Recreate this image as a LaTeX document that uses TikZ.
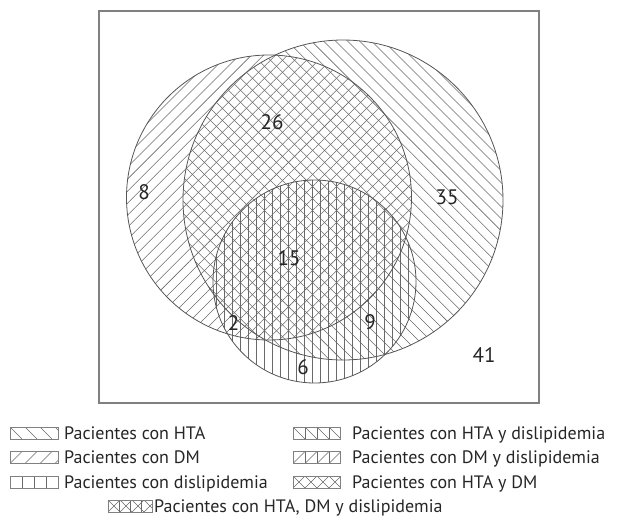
\documentclass[tikz,border=0pt]{standalone}
\usepackage{fontspec}
\setmainfont{PT Sans}
\usetikzlibrary{patterns.meta}

\definecolor{hatch}{RGB}{105,105,105}
\definecolor{rim}{RGB}{85,85,85}
\definecolor{frame}{RGB}{128,128,128}

\tikzset{every picture/.style={line width=0.75pt}}
\tikzset{
  hta/.style={pattern={Lines[angle=-45,distance=8.5pt,line width=0.55pt]},pattern color=hatch},
  dm/.style={pattern={Lines[angle=45,distance=8.5pt,line width=0.55pt]},pattern color=hatch},
  dlp/.style={pattern={Lines[angle=90,distance=8pt,line width=0.55pt]},pattern color=hatch},
  setrim/.style={draw=rim,line width=0.8pt},
  swatchbox/.style={draw=frame,line width=0.7pt},
  swatchline/.style={draw=hatch,line width=0.6pt},
  count/.style={inner sep=0.75pt,font=\fontsize{21}{23}\selectfont,text=black!85},
  legtext/.style={anchor=base west,inner sep=0.75pt,font=\fontsize{18}{20}\selectfont,text=black!85}
}

\begin{document}
\begin{tikzpicture}[x=1pt,y=1pt,yscale=-1,xscale=1]
\path[use as bounding box] (0,0) rectangle (622,523);

%Shape: Rectangle (frame)
\draw [draw=frame,line width=1.2pt] (99,11) -- (539,11) -- (539,403) -- (99,403) -- cycle ;

%Shape: Circle HTA
\fill [hta] (343,200) circle (160) ;
%Shape: Circle DM
\fill [dm] (269,197.5) circle (142.5) ;
%Shape: Circle dislipidemia
\fill [dlp] (314.5,281.5) circle (101.5) ;
%Outlines
\draw [setrim] (343,200) circle (160) ;
\draw [setrim] (269,197.5) circle (142.5) ;
\draw [setrim] (314.5,281.5) circle (101.5) ;

% Text Node
\draw (272,122) node [count] (n26) {26};
% Text Node
\draw (144,192) node [count] (n8) {8};
% Text Node
\draw (447,197) node [count] (n35) {35};
% Text Node
\draw (289,258) node [count] (n15) {15};
% Text Node
\draw (233.5,323) node [count] (n2) {2};
% Text Node
\draw (370,322) node [count] (n9) {9};
% Text Node
\draw (303,367) node [count] (n6) {6};
% Text Node
\draw (484,355) node [count] (n41) {41};

%Legend swatches: HTA
\begin{scope}
\clip (10,427) rectangle (58,439);
\foreach \x in {-5,10,25,40,55} \draw [swatchline] (\x,427) -- ++(12,12);
\end{scope}
\draw [swatchbox] (10,427) rectangle (58,439) ;
%DM
\begin{scope}
\clip (10,451.5) rectangle (58,463.5);
\foreach \x in {-5,10,25,40,55} \draw [swatchline] (\x,463.5) -- ++(12,-12);
\end{scope}
\draw [swatchbox] (10,451.5) rectangle (58,463.5) ;
%dislipidemia
\foreach \x in {22,34,46} \draw [swatchline] (\x,476) -- (\x,488);
\draw [swatchbox] (10,476) rectangle (58,488) ;
%HTA y dislipidemia
\begin{scope}
\clip (293,427) rectangle (340,439);
\foreach \x in {293,305,317,329} \draw [swatchline] (\x,427) -- ++(12,12);
\foreach \x in {305,317,329} \draw [swatchline] (\x,427) -- (\x,439);
\end{scope}
\draw [swatchbox] (293,427) rectangle (340,439) ;
%DM y dislipidemia
\begin{scope}
\clip (293,451.5) rectangle (340,463.5);
\foreach \x in {293,305,317,329} \draw [swatchline] (\x,463.5) -- ++(12,-12);
\foreach \x in {305,317,329} \draw [swatchline] (\x,451.5) -- (\x,463.5);
\end{scope}
\draw [swatchbox] (293,451.5) rectangle (340,463.5) ;
%HTA y DM
\begin{scope}
\clip (293,476) rectangle (340,488);
\foreach \x in {281,293,305,317,329} \draw [swatchline] (\x,476) -- ++(12,12);
\foreach \x in {293,305,317,329,341} \draw [swatchline] (\x,476) -- ++(-12,12);
\end{scope}
\draw [swatchbox] (293,476) rectangle (340,488) ;
%HTA, DM y dislipidemia
\begin{scope}
\clip (108,500) rectangle (152,512);
\foreach \x in {96,108,120,132,144} \draw [swatchline] (\x,500) -- ++(12,12);
\foreach \x in {108,120,132,144,156} \draw [swatchline] (\x,500) -- ++(-12,12);
\foreach \x in {119,130,141} \draw [swatchline] (\x,500) -- (\x,512);
\end{scope}
\draw [swatchbox] (108,500) rectangle (152,512) ;

% Text Node
\draw (63,439) node [legtext] (lhta) {Pacientes con HTA};
% Text Node
\draw (63,463.5) node [legtext] (ldm) {Pacientes con DM};
% Text Node
\draw (63,488) node [legtext] (ldlp) {Pacientes con dislipidemia};
% Text Node
\draw (351,439) node [legtext] (lhtadlp) {Pacientes con HTA y dislipidemia};
% Text Node
\draw (351,463.5) node [legtext] (ldmdlp) {Pacientes con DM y dislipidemia};
% Text Node
\draw (351,488) node [legtext] (lhtadm) {Pacientes con HTA y DM};
% Text Node
\draw (153,512) node [legtext] (lall) {Pacientes con HTA, DM y dislipidemia};

\end{tikzpicture}
\end{document}
